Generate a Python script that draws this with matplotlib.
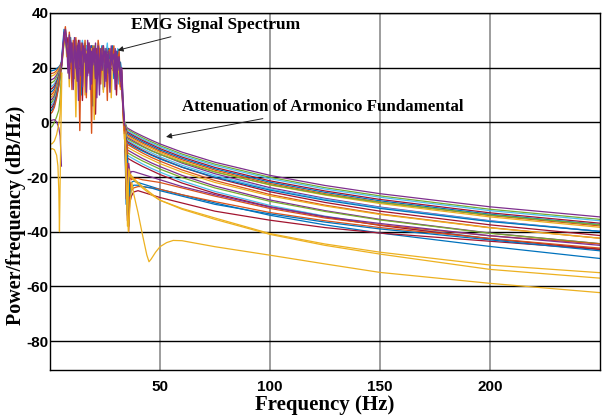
import numpy
from matplotlib import pyplot as plt

plt.rcParams['axes.unicode_minus'] = False

colors = ['#0072BD', '#D95319', '#EDB120', '#7E2F8E', '#77AC30', '#4DBEEE', '#A2142F']

# 0 - 5 Hz, curves rising into the EMG band
low_f = [0, 1, 2, 3, 4, 4.6, 5.2]
low_vals = [
    [18.8, 18.9, 19.1, 19.6, 20.3, 20.9, 22],
    [17.8, 17.9, 18.2, 18.9, 19.8, 20.6, 22],
    [16.8, 17, 17.4, 18.2, 19.4, 20.3, 21.8],
    [15.5, 15.7, 16.2, 17.3, 18.8, 20, 21.8],
    [14.3, 14.6, 15.2, 16.5, 18.2, 19.6, 21.5],
    [13, 13.3, 14.1, 15.6, 17.6, 19.2, 21.5],
    [12, 12.4, 13.3, 15, 17.2, 19, 21.4],
    [11, 11.4, 12.4, 14.3, 16.7, 18.7, 21.3],
    [10, 10.4, 11.5, 13.6, 16.2, 18.4, 21.2],
    [9, 9.5, 10.7, 12.9, 15.8, 18.2, 21.2],
    [8, 8.5, 9.8, 12.2, 15.3, 17.9, 21],
    [7, 7.5, 8.9, 11.5, 14.8, 17.6, 21],
    [6, 6.6, 8.1, 10.8, 14.4, 17.3, 20.9],
    [5, 5.6, 7.2, 10.1, 13.9, 17, 20.8],
    [4, 4.6, 6.3, 9.4, 13.4, 16.7, 20.7],
    [3, 3.7, 5.5, 8.7, 13, 16.4, 20.6],
]
low_green = [-2, -1.5, 0, 2, 4.5, 9, 18]
low_purple = [0.5, 0.8, 1, 0.2, -2, -5, -16]
low_yellow = [-8, -7.8, -6.8, -4.5, -0.5, 3, 15]
spike_f = [0, 1, 2, 3, 3.6, 4.0, 4.3, 4.6, 5.0, 5.4]
spike_yellow = [-10, -9.6, -10, -12, -16, -25, -40, -22, 0, 18]

# EMG signal band (5 - 34 Hz)
band_lo, band_hi = 5.2, 33.8
band_green = [20, 25, 29, 32, 27, 30, 25, 28, 22, 29, 26, 24, 28, 20, 27, 25, 29, 23, 26, 28, 21, 27, 25, 26, 23,
              28, 24, 26, 22, 27, 25, 23, 26, 24, 27, 21, 25, 26, 23, 25, 22, 26, 24, 21, 23, 19, 14, 6, -1]
band_cyan = [22, 27, 32, 34, 31, 25, 30, 24, 28, 19, 31, 27, 24, 29, 21, 27, 30, 25, 18, 28, 26, 29, 23, 26, 28,
             20, 27, 25, 29, 24, 26, 28, 22, 27, 25, 29, 18, 26, 27, 24, 26, 21, 25, 27, 23, 20, 15, 7, 0]
band_red = [21, 26, 30, 33, 28, 31, 24, 20, 29, 26, 16, 28, 25, 30, 22, 27, 8, 26, 28, 23, 27, 18, 25, 28, 22,
            26, 3, 27, 24, 25, 20, 27, 23, 26, 16, 24, 27, 22, 25, 19, 26, 23, 10, 24, 22, 18, 14, 5, -4]
band_blue = [22, 28, 34, 32, 26, 29, 21, 31, 15, 27, 24, 30, 18, 26, 28, 10, 27, 23, 29, 16, 25, 27, 20, 28, 6,
             26, 24, 17, 27, 25, 21, 28, 12, 25, 26, 18, 27, 22, 24, 28, 16, 25, 23, 26, 14, 22, 18, 6, -2]
band_yellow = [20, 24, 30, 33, 24, 28, 13, 29, 26, 20, 27, 2, 26, 23, 28, 17, 25, 27, 10, 26, 22, 25, 19, 27, 24,
               1, 25, 22, 26, 18, 24, 26, 11, 24, 22, 25, 20, 23, 9, 24, 21, 23, 19, 22, 17, 12, 16, 2, -6]
band_orange = [21, 26, 31, 35, 29, 22, 33, 27, 12, 30, 26, 31, 19, 28, -3, 29, 25, 22, 30, 9, 27, 29, 24, -4, 28,
               23, 27, 18, 30, 26, 14, 27, 28, 22, 25, 8, 26, 27, 21, 24, 28, 17, 25, 22, 26, 13, 19, 4, -3]
band_purple1 = [20, 25, 33, 30, 27, 24, 16, 30, 25, 19, 28, 23, 15, 29, 21, 26, 13, 28, 22, 25, 17, 29, 12, 26, 21,
                27, 16, 25, 23, 10, 27, 19, 24, 26, 15, 25, 21, 11, 26, 22, 18, 27, 14, 24, 20, 17, 12, 5, -1]
band_purple2 = [21, 27, 31, 34, 30, 18, 32, 22, 29, 12, 31, 20, 28, 8, 30, 17, 29, 24, 27, 11, 30, 19, 28, 14, 27,
                22, 29, 9, 28, 18, 26, 21, 28, 13, 27, 20, 26, 16, 28, 23, 25, 12, 26, 19, 24, 15, 20, 8, 1]

# attenuation tails above 34 Hz
tail_a_f = [34, 35, 38, 42, 46, 50, 60, 75, 100, 125, 150, 200, 250]
tail_a = [
    [0, -2, -3.4, -5, -6.5, -7.9, -10.9, -14.6, -19.4, -23.1, -26.1, -30.9, -34.6],
    [0, -2.5, -3.9, -5.6, -7.1, -8.5, -11.6, -15.3, -20.1, -23.9, -26.9, -31.8, -35.5],
    [-0.5, -3, -4.4, -6.1, -7.6, -9, -12.1, -15.8, -20.6, -24.4, -27.4, -32.3, -36],
    [-1, -3.5, -4.9, -6.6, -8.1, -9.6, -12.7, -16.5, -21.4, -25.1, -28.2, -33.1, -36.9],
    [-1.5, -4, -5.4, -7.1, -8.6, -10.1, -13.2, -17, -21.9, -25.6, -28.7, -33.6, -37.4],
    [-2, -4.5, -5.9, -7.6, -9.1, -10.6, -13.7, -17.5, -22.4, -26.1, -29.2, -34.1, -37.9],
    [-2, -5, -6.4, -8.1, -9.6, -11.1, -14.2, -18, -22.9, -26.6, -29.7, -34.6, -38.4],
    [-3, -5.5, -6.9, -8.7, -10.3, -11.7, -14.9, -18.8, -23.9, -27.8, -31, -36, -39.9],
    [-3, -6, -7.3, -8.9, -10.4, -11.7, -14.6, -18.2, -22.8, -26.4, -29.3, -33.9, -37.5],
    [-3.5, -6.5, -7.9, -9.6, -11.1, -12.6, -15.7, -19.5, -24.4, -28.1, -31.2, -36.1, -39.9],
    [-4, -7, -8.4, -10.2, -11.8, -13.2, -16.4, -20.3, -25.4, -29.3, -32.5, -37.5, -41.4],
    [-4.5, -7.5, -8.9, -10.5, -12, -13.4, -16.4, -20.1, -24.8, -28.5, -31.5, -36.3, -39.9],
    [-5, -8, -9.4, -11.2, -12.8, -14.2, -17.4, -21.3, -26.4, -30.3, -33.5, -38.5, -42.4],
    [-6, -9, -10.4, -12.1, -13.6, -15.1, -18.2, -22, -26.9, -30.6, -33.7, -38.6, -42.4],
    [-7, -10, -11.4, -13.2, -14.8, -16.2, -19.4, -23.3, -28.4, -32.3, -35.5, -40.5, -44.4],
    [-8, -11, -12.4, -14.1, -15.6, -17.1, -20.2, -24, -28.9, -32.6, -35.7, -40.6, -44.4],
    [-9, -12, -13.4, -15.2, -16.8, -18.2, -21.4, -25.3, -30.4, -34.3, -37.5, -42.5, -46.4],
    [-10, -13, -14.4, -16.1, -17.6, -19.1, -22.2, -26, -30.9, -34.6, -37.7, -42.6, -46.4],
]
tail_b_f = [34, 34.6, 35.2, 35.8, 36.4, 37, 38, 40, 42, 46, 50, 60, 75, 100, 125, 150, 200, 250]
tail_b = [
    ('#D95319', [-2, -25, -8, -33, -18, -21, -20.5, -20.5, -21, -21.5, -22, -24, -27, -31.5, -35, -37.5, -41.5, -44.5]),
    ('#0072BD', [-5, -30, -12, -38, -24, -22, -21.5, -22, -22.5, -23.5, -24.5, -26.5, -29.5, -34, -37.5, -40.5, -45.4, -49.8]),
    ('#A2142F', [-3, -20, -36, -26, -29, -27, -25.5, -25, -25.5, -26.5, -27.5, -29.5, -32.5, -35.8, -38.5, -40.5, -43.5, -46.5]),
    ('#D95319', [-1, -28, -15, -40, -22, -25, -24, -23.5, -23.5, -24, -24.5, -26.5, -29, -33, -36, -38.5, -42.5, -46]),
    ('#0072BD', [-4, -18, -34, -20, -27, -24, -23, -23, -23.5, -24, -25, -27, -30, -33.5, -36.5, -39, -43, -47]),
    ('#7E2F8E', [-2, -10, -26, -15, -19, -18, -18, -18.5, -19, -20, -21, -23.5, -26.5, -31, -34.5, -37, -41.5, -45]),
    ('#EDB120', [-4, -15, -32, -18, -20, -20, -21, -22.5, -24, -26.5, -28.5, -31.5, -35, -40.7, -44.5, -47.5, -52.2, -55]),
    ('#EDB120', [-3, -12, -38, -17, -19, -19.5, -20.5, -22, -23.5, -26, -28.5, -31.8, -35.5, -41, -45, -48.2, -53.8, -57]),
]
dip_f = [34, 34.8, 35.6, 36.4, 37.2, 38, 40, 42, 44, 45, 46, 48, 50, 53, 56, 60, 75, 100, 125, 150, 200, 250]
dip_yellow = [-5, -25, -40, -30, -22, -26, -33, -41, -48.5, -51, -50, -47.5, -45.5, -44, -43.2, -43.3, -45.5,
              -48.6, -51.8, -54.9, -58.9, -62.3]

fig = plt.figure(figsize=(6.03, 4.18), dpi=100)
ax = fig.add_axes([50/603, 48/418, 550/603, 357/418])
lw = 0.9

for i, v in enumerate(tail_a):
    ax.plot(tail_a_f, v, color=colors[(i + 3) % 7], lw=lw)
for c, v in tail_b:
    ax.plot(tail_b_f, v, color=c, lw=lw)
ax.plot(dip_f, dip_yellow, color='#EDB120', lw=lw)

for i, v in enumerate(low_vals):
    ax.plot(low_f, v, color=colors[i % 7], lw=lw)
ax.plot(low_f, low_green, color='#77AC30', lw=lw)
ax.plot(low_f, low_purple, color='#7E2F8E', lw=lw)
ax.plot(low_f, low_yellow, color='#EDB120', lw=lw)
ax.plot(spike_f, spike_yellow, color='#EDB120', lw=lw)

bands = [('#77AC30', band_green), ('#4DBEEE', band_cyan), ('#A2142F', band_red), ('#0072BD', band_blue),
         ('#EDB120', band_yellow), ('#D95319', band_orange), ('#7E2F8E', band_purple1), ('#7E2F8E', band_purple2)]
for c, v in bands:
    ax.plot(numpy.linspace(band_lo, band_hi, len(v)), v, color=c, lw=1.0)

ax.set_xlim(0, 250)
ax.set_ylim(-90.6, 40)
ax.set_xticks([50, 100, 150, 200])
ax.set_yticks([-80, -60, -40, -20, 0, 20, 40])
ax.set_axisbelow(True)
ax.yaxis.grid(True, color='black', lw=1.0)
ax.xaxis.grid(True, color='#8c8c8c', lw=1.2)
for s in ax.spines.values():
    s.set_color('black')
    s.set_linewidth(1.0)
ax.tick_params(axis='both', length=0)
ax.tick_params(axis='x', pad=7)
ax.tick_params(axis='y', pad=1)
for t in ax.get_xticklabels() + ax.get_yticklabels():
    t.set_fontfamily('Liberation Sans')
    t.set_fontweight('bold')
    t.set_fontsize(11)

serif = dict(family='Liberation Serif', weight='bold')
fig.text(325/603, 1 - 405/418, 'Frequency (Hz)', ha='center', va='center', fontsize=15, **serif)
fig.text(16/603, 1 - 215/418, 'Power/frequency (dB/Hz)', ha='center', va='center', rotation=90,
         fontsize=14.5, **serif)

arrow = dict(arrowstyle='-|>', color='#222222', lw=0.7, mutation_scale=8)
ax.annotate('EMG Signal Spectrum', xy=(29.5, 26.1), xytext=(37, 35.5), ha='left', va='center',
            fontsize=12.5, arrowprops=arrow, **serif)
ax.annotate('Attenuation of Armonico Fundamental', xy=(51.5, -5.5), xytext=(60, 5.5), ha='left',
            va='center', fontsize=12.2, arrowprops=arrow, **serif)

fig.savefig('out.png', dpi=100)
